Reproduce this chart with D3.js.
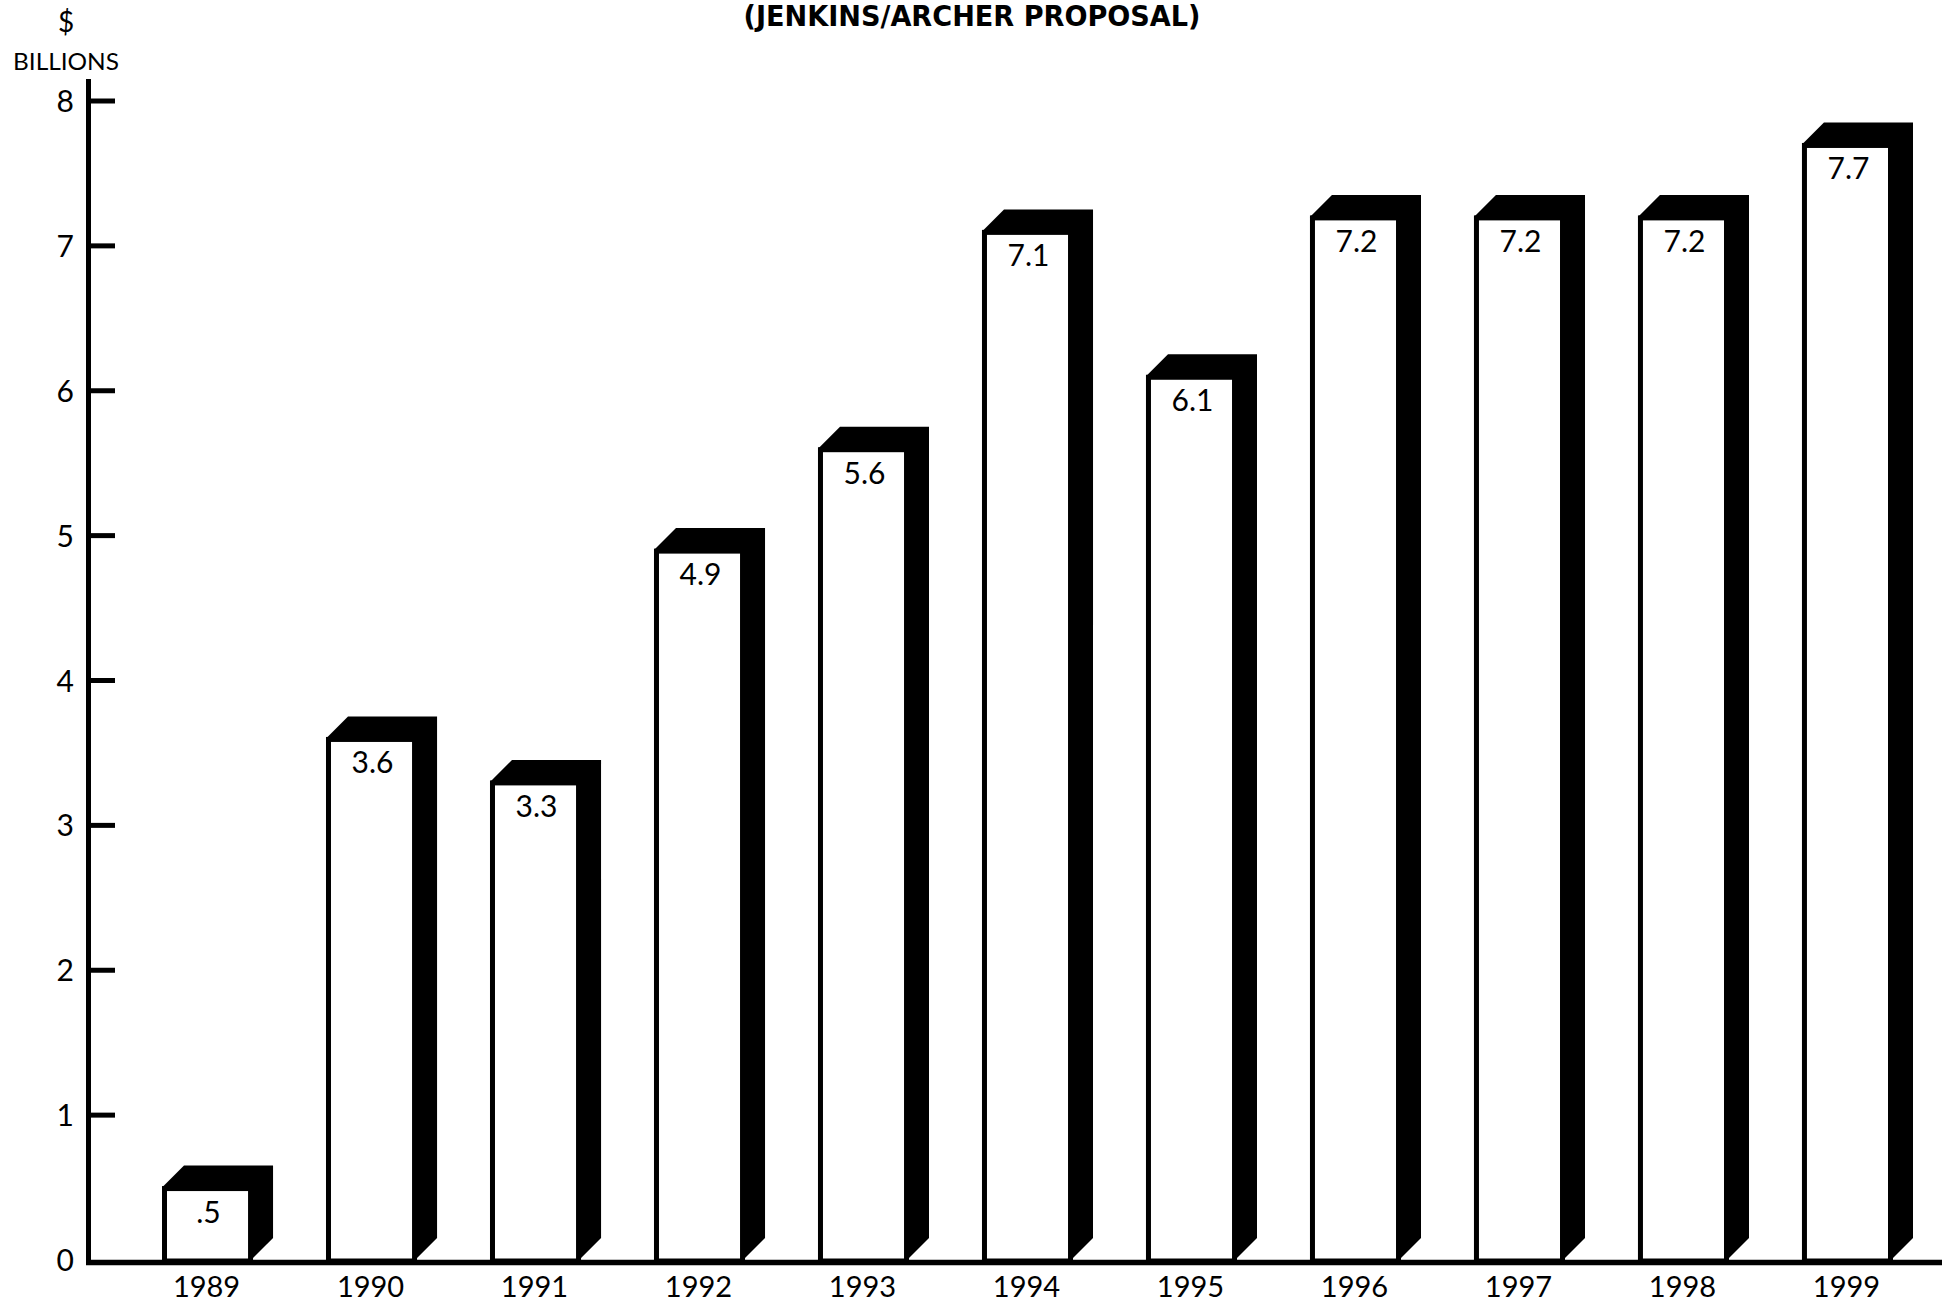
<!DOCTYPE html>
<html>
<head>
<meta charset="utf-8">
<script src="https://cdn.jsdelivr.net/npm/d3@7"></script>
<style>
  html, body { margin: 0; padding: 0; background: #fff; }
  svg { display: block; }
</style>
</head>
<body>
<script>
// Annual outlays, $ billions (Jenkins/Archer proposal)
const years = ["1989", "1990", "1991", "1992", "1993", "1994", "1995", "1996", "1997", "1998", "1999"];
const values = [0.5, 3.6, 3.3, 4.9, 5.6, 7.1, 6.1, 7.2, 7.2, 7.2, 7.7];
const valueLabels = [".5", "3.6", "3.3", "4.9", "5.6", "7.1", "6.1", "7.2", "7.2", "7.2", "7.7"];
const yTicks = [0, 1, 2, 3, 4, 5, 6, 7, 8];

const W = 1950, H = 1304;
const numFont = "Lato, 'DejaVu Sans', sans-serif";

const svg = d3.select("body").append("svg")
  .attr("width", W).attr("height", H);

svg.append("rect").attr("width", W).attr("height", H).attr("fill", "#ffffff");

const y = d3.scaleLinear().domain([0, 8]).range([1260, 101]);
const x = d3.scaleBand().domain(years).range([162, 1891])
  .paddingInner(0.457).paddingOuter(0).align(0);

const axisX = 88.5, baseY = 1262.5;
const dx = 22, dy = 22;

// Title and unit labels
svg.append("text")
  .attr("x", 972).attr("y", 26)
  .attr("text-anchor", "middle")
  .attr("font-family", "'DejaVu Sans Condensed', 'DejaVu Sans', sans-serif")
  .attr("font-weight", "bold").attr("font-size", 28)
  .attr("textLength", 457).attr("lengthAdjust", "spacingAndGlyphs")
  .text("(JENKINS/ARCHER PROPOSAL)");

svg.append("text")
  .attr("x", 66).attr("y", 32)
  .attr("text-anchor", "middle")
  .attr("font-family", numFont).attr("font-size", 28)
  .text("$");

svg.append("text")
  .attr("x", 66).attr("y", 70)
  .attr("text-anchor", "middle")
  .attr("font-family", numFont).attr("font-size", 24)
  .attr("textLength", 106).attr("lengthAdjust", "spacingAndGlyphs")
  .text("BILLIONS");

// Bars: white front face with black extruded top and side
const bars = svg.append("g").selectAll("g")
  .data(years.map((yr, i) => ({ yr, v: values[i], label: valueLabels[i] })))
  .join("g");

bars.append("path")
  .attr("fill", "#000")
  .attr("d", d => {
    const x0 = x(d.yr), x1 = x0 + x.bandwidth(), yt = y(d.v), yb = y(0);
    return `M${x0},${yt} L${x0 + dx},${yt - dy} L${x1 + dx},${yt - dy} L${x1 + dx},${yb - dy} L${x1},${yb} Z`;
  });

bars.append("rect")
  .attr("x", d => x(d.yr) + 2.5)
  .attr("y", d => y(d.v) + 1)
  .attr("width", x.bandwidth() - 3)
  .attr("height", d => y(0) - y(d.v))
  .attr("fill", "#fff")
  .attr("stroke", "#000")
  .attr("stroke-width", 5);

bars.append("text")
  .attr("x", d => x(d.yr) + x.bandwidth() / 2 + 2)
  .attr("y", d => y(d.v) + 35)
  .attr("text-anchor", "middle")
  .attr("font-family", numFont).attr("font-size", 30)
  .text(d => d.label);

// Axes
svg.append("line")
  .attr("x1", axisX).attr("x2", axisX)
  .attr("y1", 79).attr("y2", baseY + 2.5)
  .attr("stroke", "#000").attr("stroke-width", 5);

svg.append("line")
  .attr("x1", axisX - 2.5).attr("x2", 1942)
  .attr("y1", baseY).attr("y2", baseY)
  .attr("stroke", "#000").attr("stroke-width", 5.5);

const yAxis = svg.append("g");
yAxis.selectAll("line")
  .data(yTicks.filter(t => t > 0))
  .join("line")
  .attr("x1", axisX).attr("x2", 115)
  .attr("y1", d => y(d)).attr("y2", d => y(d))
  .attr("stroke", "#000").attr("stroke-width", 5);

yAxis.selectAll("text")
  .data(yTicks)
  .join("text")
  .attr("x", 74)
  .attr("y", d => (d === 0 ? baseY - 3 : y(d)) + 11)
  .attr("text-anchor", "end")
  .attr("font-family", numFont).attr("font-size", 30)
  .text(d => d);

// Year labels
svg.append("g").selectAll("text")
  .data(years)
  .join("text")
  .attr("x", d => x(d) + x.bandwidth() / 2)
  .attr("y", 1297)
  .attr("text-anchor", "middle")
  .attr("font-family", numFont).attr("font-size", 29)
  .text(d => d);
</script>
</body>
</html>
